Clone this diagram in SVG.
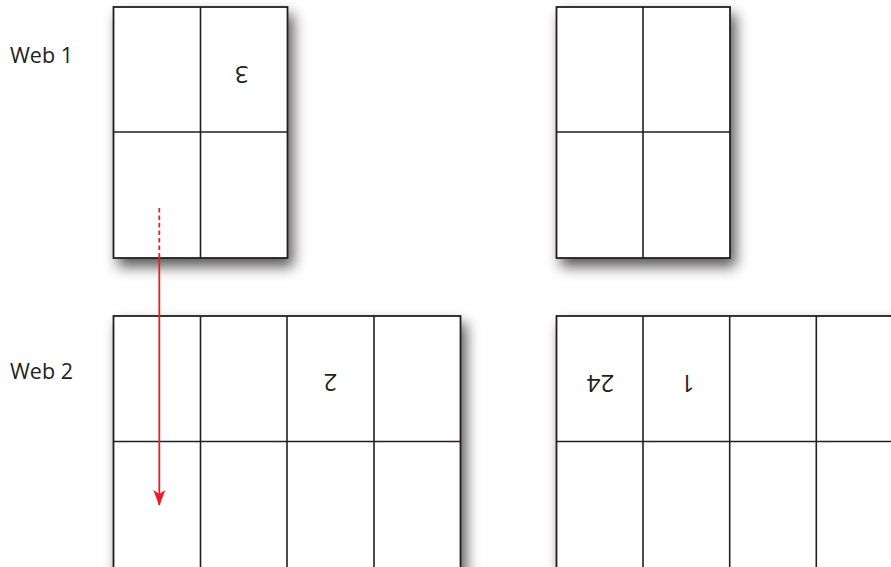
<svg xmlns="http://www.w3.org/2000/svg" width="891" height="567" viewBox="0 0 891 567">
<style>
.sheet{fill:#fff;stroke:#231f20;stroke-width:1.8;filter:url(#sh)}
.grid{stroke:#231f20;stroke-width:1.6;fill:none}
.lbl{font-family:"Open Sans","Liberation Sans",sans-serif;font-size:21.5px;fill:#231f20}
.num{font-family:"Open Sans","Liberation Sans",sans-serif;font-size:24px;fill:#231f20;text-anchor:middle}
</style>
<defs>
<filter id="sh" x="-20%" y="-20%" width="150%" height="150%">
<feDropShadow dx="5" dy="8" stdDeviation="7" flood-color="#000" flood-opacity="0.65"/>
</filter>
<marker id="ah" viewBox="0 0 16 12" refX="15" refY="6" markerWidth="16" markerHeight="12" markerUnits="userSpaceOnUse" orient="auto">
<path d="M0,0 L4,6 L0,12 L16,6 Z" fill="#ed1c24"/>
</marker>
</defs>
<rect width="891" height="567" fill="#fff"/>
<text class="lbl" x="10" y="62.5">Web 1</text>
<text class="lbl" x="10" y="379">Web 2</text>
<g id="sheet1">
<rect class="sheet" x="113.5" y="7" width="174" height="251"/>
<path class="grid" d="M200.5,7V258M113.5,132H287.5"/>
<text class="num" x="241.5" y="82.5" transform="rotate(180 241.5 74)">3</text>
</g>
<g id="sheet2">
<rect class="sheet" x="556.5" y="7" width="173.5" height="251"/>
<path class="grid" d="M643,7V258M556.5,132H730"/>
</g>
<g id="sheet3">
<rect class="sheet" x="113.5" y="316" width="347" height="270"/>
<path class="grid" d="M200.5,316V567M287,316V567M374,316V567M113.5,441.5H460.5"/>
<text class="num" x="330.3" y="391" transform="rotate(180 330.3 382.5)">2</text>
</g>
<g id="sheet4">
<rect class="sheet" x="556.5" y="316" width="347" height="270"/>
<path class="grid" d="M643,316V567M729.7,316V567M816.3,316V567M556.5,441.5H903"/>
<text class="num" x="600.5" y="391.8" transform="rotate(180 600.5 383.3)">24</text>
<text class="num" x="687.5" y="391.8" transform="rotate(180 687.5 383.3)">1</text>
</g>
<g id="connectors">
<line x1="159.3" y1="208" x2="159.3" y2="257" stroke="#ed1c24" stroke-width="1.8" stroke-dasharray="4.5,3"/>
<line x1="159.3" y1="257" x2="159.3" y2="505" stroke="#ed1c24" stroke-width="1.8" marker-end="url(#ah)"/>
</g>
</svg>
